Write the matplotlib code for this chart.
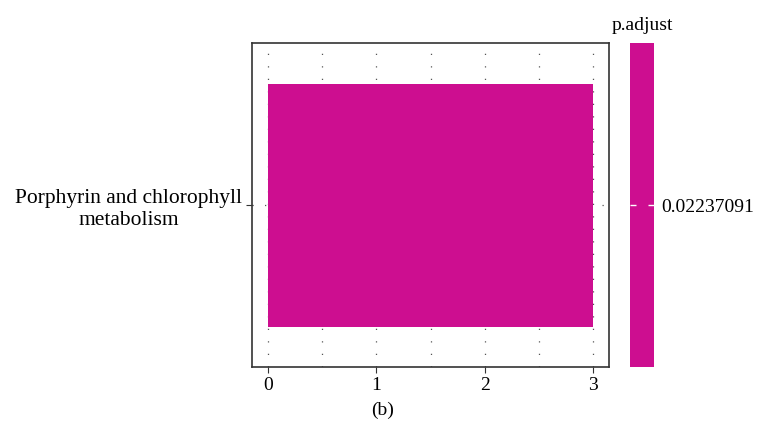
import matplotlib.pyplot as plt
from matplotlib.colors import ListedColormap, Normalize
import matplotlib.cm as cm

# data
pathways = ["Porphyrin and chlorophyll\nmetabolism"]
counts = [3]
p_adjust = [0.02237091]
bar_color = "#CD0E90"

plt.rcParams['font.family'] = ['Liberation Serif', 'DejaVu Serif']
plt.rcParams['font.size'] = 14

fig = plt.figure(figsize=(7.59, 4.41), dpi=100)
ax = fig.add_axes([252 / 759, 1 - 367 / 441, (609 - 252) / 759, (367 - 43) / 441])

ypos = list(range(1, len(pathways) + 1))
ax.barh(ypos, counts, height=0.9, color=bar_color, zorder=2)

ax.set_xlim(-0.15, 3.15)
ax.set_ylim(0.4, len(pathways) + 0.6)
ax.set_xticks([0, 1, 2, 3])
ax.set_xticks([0.5, 1.5, 2.5], minor=True)
ax.set_yticks(ypos)
ax.set_yticklabels(pathways, multialignment='center', fontsize=15.5, linespacing=1.25)

# dotted grid
for xv in [0, 0.5, 1, 1.5, 2, 2.5, 3]:
    ax.axvline(xv, color='#555555', lw=0.9, ls=(0, (1, 9)), zorder=1)
for yv in ypos:
    ax.axhline(yv, color='#555555', lw=0.9, ls=(0, (1, 9)), zorder=1)

for s in ax.spines.values():
    s.set_color('#333333')
    s.set_linewidth(1.2)
ax.tick_params(which='major', length=4, width=0.8, color='#333333', pad=3)
ax.tick_params(which='minor', length=0)

# colour bar
cax = fig.add_axes([630 / 759, 1 - 367 / 441, 24 / 759, (367 - 43) / 441])
sm = cm.ScalarMappable(norm=Normalize(p_adjust[0] - 1e-4, p_adjust[0] + 1e-4),
                       cmap=ListedColormap([bar_color]))
cb = fig.colorbar(sm, cax=cax, ticks=[p_adjust[0]])
cb.outline.set_visible(False)
cb.ax.set_yticklabels([f"{v:.8f}".rstrip('0') for v in p_adjust])
cb.ax.tick_params(direction='in', length=4, width=1, color='white', left=True, right=True, pad=5)
cax.set_title("p.adjust", fontsize=14, pad=9)

fig.text(383 / 759, 1 - 410 / 441, "(b)", ha='center', va='center', fontsize=14)

fig.savefig("out.png", dpi=100)
